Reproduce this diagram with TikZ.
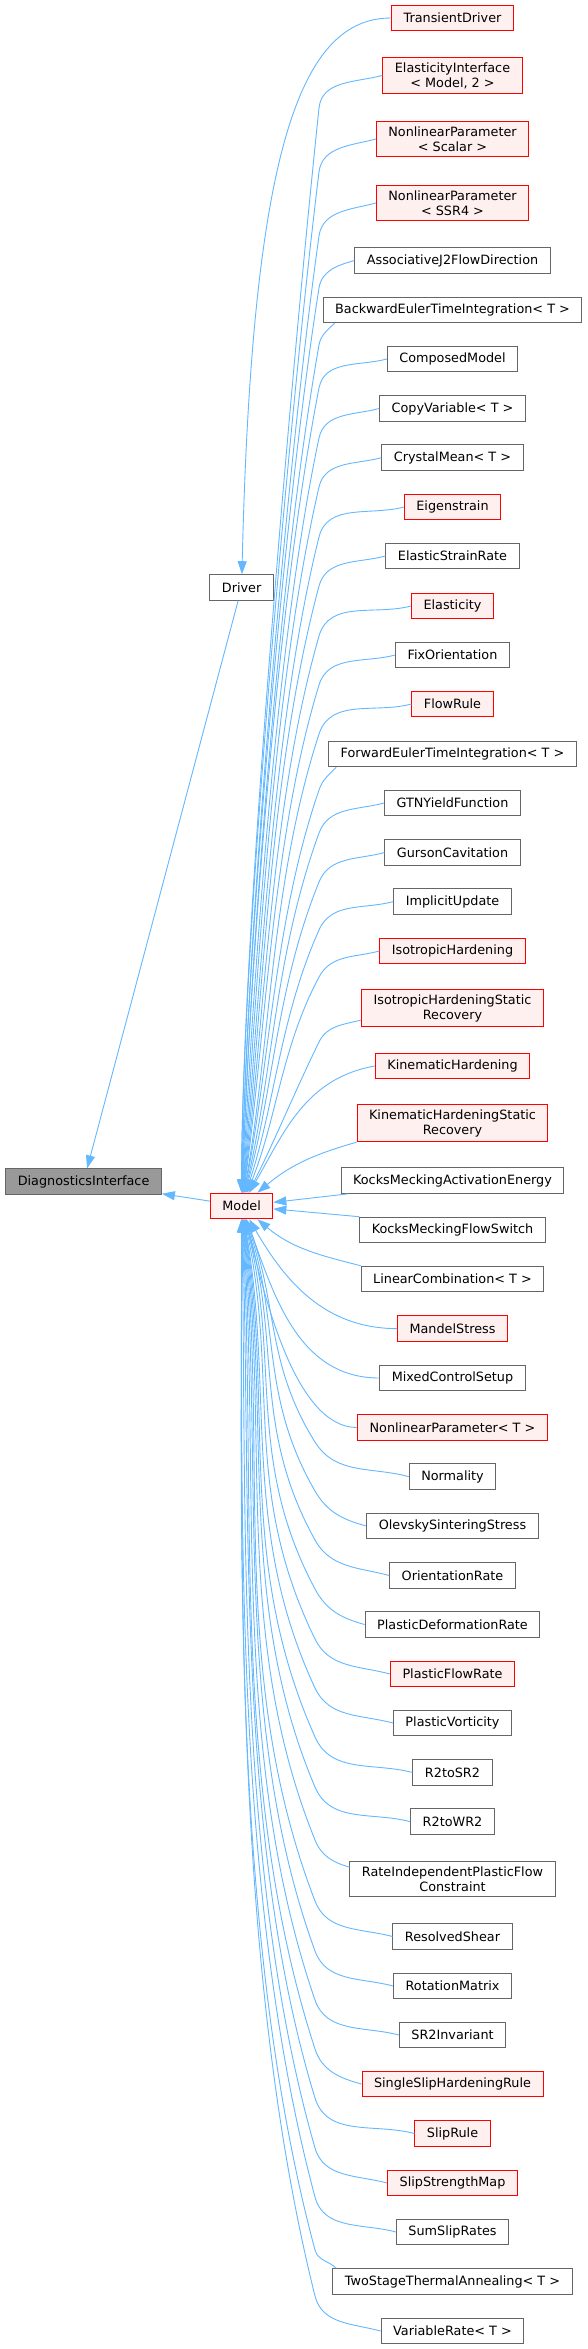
\documentclass[tikz,border=0pt]{standalone}
\usepackage{fontspec}
\setmainfont{DejaVu Sans}
\usetikzlibrary{arrows.meta}
\definecolor{edgeblue}{HTML}{63B8FF}
\definecolor{redline}{HTML}{FF0000}
\definecolor{redfill}{HTML}{FFF0F0}
\definecolor{grayline}{HTML}{666666}
\definecolor{rootfill}{HTML}{999999}

\begin{document}
\begin{tikzpicture}[
    x=1pt, y=1pt,
    box/.style={rectangle, draw=grayline, fill=white, line width=1pt, minimum height=25.6pt, inner xsep=12pt, inner ysep=5pt, align=center, font=\fontsize{12.8}{15}\selectfont},
    redbox/.style={box, draw=redline, fill=redfill},
    rootbox/.style={box, fill=rootfill},
    arrow/.style={-{Triangle[length=13pt, width=9pt]}, draw=edgeblue, line width=0.9pt}
]

\useasboundingbox[fill=white] (0,0) rectangle (587,-2349);

\node[rootbox] (diag) at (83.6,-1181.7) {DiagnosticsInterface};
\node[redbox] (model) at (241.6,-1206) {Model};
\node[box] (drv) at (241.6,-587.5) {Driver};

\node[redbox] (tdrv) at (452.5,-18) {TransientDriver};
\node[redbox] (eif) at (452.5,-75.4) {ElasticityInterface\\< Model, 2 >};
\node[redbox] (nlps) at (452.5,-139) {NonlinearParameter\\< Scalar >};
\node[redbox] (nlpr) at (452.5,-203) {NonlinearParameter\\< SSR4 >};
\node[box] (aj2) at (452.5,-260.6) {AssociativeJ2FlowDirection};
\node[box] (beti) at (452.5,-309.8) {BackwardEulerTimeIntegration< T >};
\node[box] (cm) at (452.5,-359) {ComposedModel};
\node[box] (cv) at (452.5,-408.5) {CopyVariable< T >};
\node[box] (cmean) at (452.5,-457.7) {CrystalMean< T >};
\node[redbox] (eig) at (452.5,-507) {Eigenstrain};
\node[box] (esr) at (452.5,-556) {ElasticStrainRate};
\node[redbox] (ela) at (452.5,-606) {Elasticity};
\node[box] (fo) at (452.5,-655) {FixOrientation};
\node[redbox] (fr) at (452.5,-704) {FlowRule};
\node[box] (feti) at (452.5,-754) {ForwardEulerTimeIntegration< T >};
\node[box] (gtn) at (452.5,-803) {GTNYieldFunction};
\node[box] (gc) at (452.5,-852.6) {GursonCavitation};
\node[box] (iu) at (452.5,-901.6) {ImplicitUpdate};
\node[redbox] (ih) at (452.5,-951) {IsotropicHardening};
\node[redbox] (ihsr) at (452.5,-1008) {IsotropicHardeningStatic\\Recovery};
\node[redbox] (kh) at (452.5,-1066) {KinematicHardening};
\node[redbox] (khsr) at (452.5,-1123) {KinematicHardeningStatic\\Recovery};
\node[box] (kmae) at (452.5,-1180.6) {KocksMeckingActivationEnergy};
\node[box] (kmfs) at (452.5,-1230) {KocksMeckingFlowSwitch};
\node[box] (lc) at (452.5,-1279) {LinearCombination< T >};
\node[redbox] (ms) at (452.5,-1328.6) {MandelStress};
\node[box] (mcs) at (452.5,-1378) {MixedControlSetup};
\node[redbox] (nlpt) at (452.5,-1427.5) {NonlinearParameter< T >};
\node[box] (nor) at (452.5,-1476.6) {Normality};
\node[box] (oss) at (452.5,-1526) {OlevskySinteringStress};
\node[box] (ori) at (452.5,-1575.5) {OrientationRate};
\node[box] (pdr) at (452.5,-1624.5) {PlasticDeformationRate};
\node[redbox] (pfr) at (452.5,-1674) {PlasticFlowRate};
\node[box] (pv) at (452.5,-1723) {PlasticVorticity};
\node[box] (rsr) at (452.5,-1772.5) {R2toSR2};
\node[box] (rwr) at (452.5,-1821.7) {R2toWR2};
\node[box] (ripfc) at (452.5,-1879) {RateIndependentPlasticFlow\\Constraint};
\node[box] (rs) at (452.5,-1936.5) {ResolvedShear};
\node[box] (rm) at (452.5,-1986) {RotationMatrix};
\node[box] (sri) at (452.5,-2035) {SR2Invariant};
\node[redbox] (sshr) at (452.5,-2084) {SingleSlipHardeningRule};
\node[redbox] (sr) at (452.5,-2133.5) {SlipRule};
\node[redbox] (ssm) at (452.5,-2183) {SlipStrengthMap};
\node[box] (ssr) at (452.5,-2232) {SumSlipRates};
\node[box] (tsta) at (452.5,-2281.7) {TwoStageThermalAnnealing< T >};
\node[box] (vr) at (452.5,-2331) {VariableRate< T >};

\draw[arrow] (model) -- (diag);
\draw[arrow] (drv) -- (diag);
\draw[arrow] (tdrv.west) .. controls (300,-18) and (252,-150) .. (drv);

\draw[arrow] (eif.west) to[out=195,in=84] (319,-108) .. controls (292.3,-362.2) and (241.6,-937.7) .. (model.90);
\draw[arrow] (nlps.west) to[out=195,in=83] (319,-172) .. controls (289.7,-410.8) and (241.6,-952.7) .. (model.90);
\draw[arrow] (nlpr.west) to[out=195,in=82] (319,-236) .. controls (285,-478) and (246.1,-948.9) .. (model.89);
\draw[arrow] (aj2.west) to[out=195,in=81] (319,-288) .. controls (282.8,-516.4) and (245.8,-962.1) .. (model.89);
\draw[arrow] ([xshift=12pt]beti.south west) to[out=225,in=80] (319,-345) .. controls (278.5,-574.9) and (250.1,-960) .. (model.88);
\draw[arrow] (cm.west) to[out=195,in=79] (319,-388) .. controls (276.7,-605.6) and (249.7,-971.7) .. (model.88);
\draw[arrow] (cv.west) to[out=195,in=78] (319,-438) .. controls (275.8,-641.4) and (253.2,-985.6) .. (model.87);
\draw[arrow] (cmean.west) to[out=195,in=77] (319,-487) .. controls (272.1,-690.3) and (257.1,-985.2) .. (model.86);
\draw[arrow] (eig.west) to[out=195,in=76] (319,-537) .. controls (272.1,-725.2) and (259.6,-1000) .. (model.85);
\draw[arrow] (esr.west) to[out=195,in=75] (319,-586) .. controls (269.4,-771.2) and (262.9,-1002.7) .. (model.84);
\draw[arrow] (ela.west) to[out=195,in=74] (319,-636) .. controls (270.5,-805.3) and (264.7,-1018.5) .. (model.83);
\draw[arrow] (fo.west) to[out=195,in=73] (319,-685) .. controls (271.9,-839) and (265.8,-1033.9) .. (model.82);
\draw[arrow] (fr.west) to[out=195,in=72] (319,-734) .. controls (271.1,-881.3) and (270.7,-1040.8) .. (model.80);
\draw[arrow] ([xshift=8pt]feti.south west) to[out=225,in=71] (319,-790) .. controls (274.6,-919.1) and (270.1,-1059.3) .. (model.79);
\draw[arrow] (gtn.west) to[out=195,in=70] (319,-833) .. controls (274.7,-954.8) and (273.7,-1067) .. (model.77);
\draw[arrow] (gc.west) to[out=195,in=68] (319,-882) .. controls (276.7,-986.6) and (274.2,-1084.3) .. (model.75);
\draw[arrow] (iu.west) to[out=195,in=66] (319,-930) .. controls (279.8,-1018) and (275.5,-1101.7) .. (model.72);
\draw[arrow] (ih.west) to[out=195,in=62] (319,-977) .. controls (281.3,-1047.9) and (276.8,-1118.8) .. (model.68);
\draw[arrow] ([yshift=-12pt]ihsr.west) to[out=195,in=64] (319,-1042) .. controls (293.2,-1094.9) and (274.8,-1140.8) .. (model.63);
\draw[arrow] (kh.west) .. controls (305.4,-1078.1) and (283.8,-1132.9) .. (model.60);
\draw[arrow] (khsr.south west) .. controls (313.9,-1154.3) and (290.1,-1165.3) .. (model.40);
\draw[arrow] ([xshift=7pt]kmae.south west) -- (model);

\draw[arrow] (kmfs.north west) -- (model);
\draw[arrow] (lc.north west) .. controls (317.6,-1254.9) and (291.1,-1247.6) .. (model.-40);
\draw[arrow] (ms.west) .. controls (324.8,-1328.6) and (285,-1281.2) .. (model.-60);
\draw[arrow] (mcs.west) .. controls (298.3,-1378) and (274,-1295.2) .. (model.-70);
\draw[arrow] (nlpt.west) .. controls (291.8,-1427.5) and (261.8,-1281.4) .. (model.-75);
\draw[arrow] (nor.west) to[out=165,in=-58] (315,-1442) .. controls (266.5,-1364.4) and (277.5,-1304.7) .. (model.-70);
\draw[arrow] (oss.west) to[out=165,in=-60] (315,-1491) .. controls (260,-1395.7) and (279.7,-1323.3) .. (model.-72);
\draw[arrow] (ori.west) to[out=165,in=-61] (315,-1540) .. controls (252.6,-1427.4) and (280.7,-1342.4) .. (model.-74);
\draw[arrow] (pdr.west) to[out=165,in=-62] (315,-1589) .. controls (245.7,-1458.7) and (280.5,-1361.9) .. (model.-76);
\draw[arrow] (pfr.west) to[out=165,in=-64] (315,-1639) .. controls (241.8,-1489) and (279,-1381.9) .. (model.-78);
\draw[arrow] (pv.west) to[out=165,in=-65] (315,-1688) .. controls (240.4,-1528) and (274.5,-1392.6) .. (model.-80);
\draw[arrow] (rsr.west) to[out=165,in=-66] (315,-1737) .. controls (235.9,-1559.2) and (274,-1410.9) .. (model.-81);
\draw[arrow] (rwr.west) to[out=165,in=-67] (315,-1787) .. controls (236.1,-1601.2) and (271.5,-1418.6) .. (model.-82);
\draw[arrow] ([yshift=12pt]ripfc.west) to[out=165,in=-68] (315,-1840) .. controls (232.4,-1635.6) and (270.1,-1437.4) .. (model.-83);
\draw[arrow] (rs.west) to[out=165,in=-69] (315,-1901) .. controls (228.3,-1675.3) and (268.2,-1459.2) .. (model.-84);
\draw[arrow] (rm.west) to[out=165,in=-70] (315,-1951) .. controls (231.2,-1720.9) and (264.1,-1462.7) .. (model.-85);
\draw[arrow] (sri.west) to[out=165,in=-71] (315,-2000) .. controls (230,-1753.1) and (260.7,-1479.2) .. (model.-86);
\draw[arrow] (sshr.west) to[out=165,in=-72] (315,-2049) .. controls (229.3,-1785.2) and (256.8,-1495.7) .. (model.-87);
\draw[arrow] (sr.west) to[out=165,in=-73] (315,-2098) .. controls (234.2,-1833.8) and (251.6,-1494.8) .. (model.-88);
\draw[arrow] (ssm.west) to[out=165,in=-74] (315,-2148) .. controls (234.5,-1867.3) and (246.9,-1510.6) .. (model.-89);
\draw[arrow] (ssr.west) to[out=165,in=-75] (315,-2197) .. controls (235.5,-1900.3) and (241.6,-1525.9) .. (model.-90);
\draw[arrow] ([xshift=4pt]tsta.north west) to[out=135,in=-75] (315,-2250) .. controls (231.2,-1937.2) and (241.6,-1542.5) .. (model.-90);
\draw[arrow] (vr.west) to[out=165,in=-76] (315,-2296) .. controls (233.2,-1967.8) and (241.6,-1556.9) .. (model.-90);

\end{tikzpicture}
\end{document}
